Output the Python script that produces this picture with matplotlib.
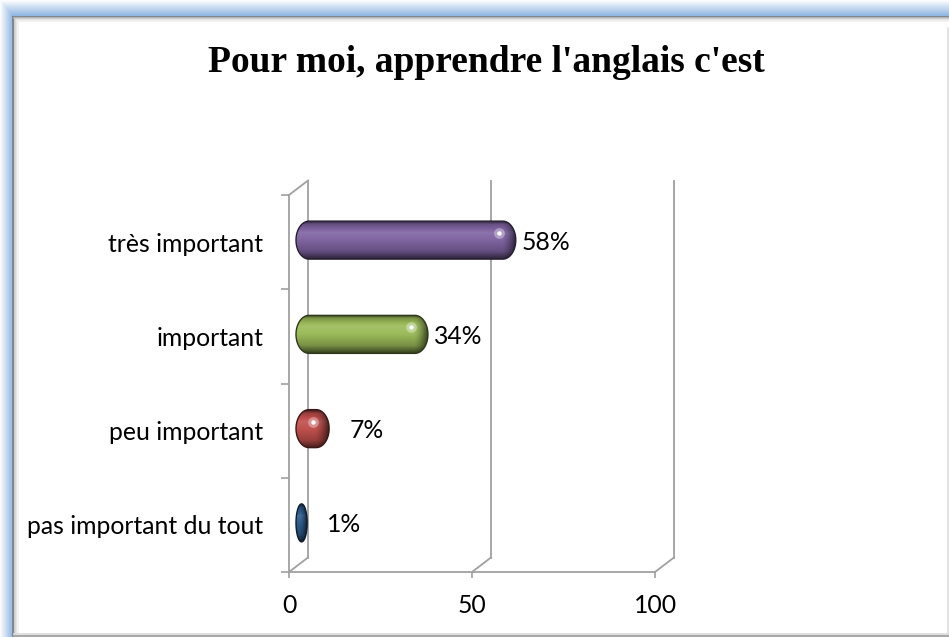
import numpy as np
import matplotlib
matplotlib.use('Agg')
import matplotlib.pyplot as plt
from matplotlib.colors import to_rgb
from matplotlib.patches import Polygon

# data (top to bottom as on the chart)
categories = ['très important', 'important', 'peu important', 'pas important du tout']
values = [58, 34, 7, 1]
value_labels = ['58%', '34%', '7%', '1%']
bar_colors = ['#8064A2', '#9BBB59', '#C0504D', '#2F5D90']
xticks = [0, 50, 100]
title = "Pour moi, apprendre l'anglais c'est"

W, H = 949, 637
fig = plt.figure(figsize=(W / 100, H / 100), dpi=100)
fig.patch.set_facecolor('white')

# ---- frame (blue glow + grey border) ----
bg = fig.add_axes([0, 0, 1, 1])
bg.set_xlim(0, W)
bg.set_ylim(H, 0)
bg.axis('off')
xx, yy = np.meshgrid(np.arange(W) + 0.5, np.arange(H) + 0.5)
a_left = np.where(xx < 14, np.clip(xx / 13, 0, 1), 1)
a_top = np.where(yy < 17, np.clip(yy / 16, 0, 1), 1)
alpha = np.minimum(a_left, a_top)
alpha[(xx >= 14) & (yy >= 17)] = 0
blue = np.array(to_rgb('#8DB4E2'))
img = np.ones((H, W, 3)) * (1 - alpha[..., None]) + blue * alpha[..., None]
bg.imshow(img, extent=[0, W, H, 0], aspect='auto', interpolation='bilinear')
bg.plot([13.5, 13.5], [17, H], color='#7F7F7F', lw=1.2)
bg.plot([13, W], [16.5, 16.5], color='#7F7F7F', lw=1.2)
for off, c in [(1.5, '#BDBDBD'), (3, '#DDDDDD'), (4.5, '#F0F0F0')]:
    bg.plot([13.5 + off, 13.5 + off], [17 + off, H], color=c, lw=1.1)
    bg.plot([13 + off, W], [16.5 + off, 16.5 + off], color=c, lw=1.1)
bg.plot([14, W], [635.5, 635.5], color='#A8A8A8', lw=1.5)
bg.plot([14, W], [633.8, 633.8], color='#DADADA', lw=1.2)
bg.plot([947.8, 947.8], [28, 633], color='#DDDDDD', lw=1.2)
bg.set_xlim(0, W)
bg.set_ylim(H, 0)

fig.text(486 / W, 1 - 63 / H, title, ha='center', va='center',
         fontsize=27, fontweight='bold', family='Liberation Serif')

# ---- plot area ----
left_px, right_px, top_px, bottom_px = 289, 655, 195, 572
ax = fig.add_axes([left_px / W, 1 - bottom_px / H,
                   (right_px - left_px) / W, (bottom_px - top_px) / H])
ax.set_xlim(0, 100)
ax.set_ylim(-0.5, len(categories) - 0.5)
ax.patch.set_alpha(0)
for s in ax.spines.values():
    s.set_visible(False)

px_x = (right_px - left_px) / 100.0          # pixels per x unit
px_y = (bottom_px - top_px) / len(categories)  # pixels per y unit
dx, dy = 19 / px_x, 14.5 / px_y               # depth offset of back wall
ymin, ymax = -0.5, len(categories) - 0.5
gray = '#A0A0A0'
lkw = dict(color=gray, lw=1.3, clip_on=False, zorder=1)

ax.plot([0, 0], [ymin, ymax], **lkw)
ax.plot([0, 100], [ymin, ymin], **lkw)
ax.plot([0, dx], [ymax, ymax + dy], **lkw)
for xt in xticks:
    ax.plot([xt + dx, xt + dx], [ymin + dy, ymax + dy], **lkw)
    ax.plot([xt, xt + dx], [ymin, ymin + dy], **lkw)

# ticks
ypos = [len(categories) - 1 - i for i in range(len(categories))]
ax.set_yticks(np.arange(ymin, ymax + 0.01, 1.0))
ax.set_yticklabels([])
ax.tick_params(axis='y', which='major', length=6, width=1.2, color=gray)
ax.set_yticks(ypos, minor=True)
ax.set_yticklabels(categories, minor=True)
ax.tick_params(axis='y', which='minor', length=0, pad=18.5)
ax.set_xticks(xticks)
ax.set_xticklabels([str(t) for t in xticks])
ax.tick_params(axis='x', which='major', length=4, width=1.2, color=gray, pad=12)
for lab in ax.get_yticklabels(minor=True) + ax.get_xticklabels():
    lab.set_fontfamily('Lato')
    lab.set_fontsize(17.8)


def shade(c, m):
    c = np.array(c)
    if m >= 1:
        return c + (1 - c) * (m - 1)
    return c * m


# vertical light profile of a cylinder (top -> bottom)
prof_t = [0.0, 0.08, 0.3, 0.5, 0.8, 1.0]
prof_m = [0.35, 0.8, 1.1, 1.0, 0.78, 0.35]

bar_h = 38 / px_y
shift_x = 7 / px_x
shift_y = 2 / px_y
end_pad = 7.5 / px_x
label_gap_px = [6, 6, 21, 20]

for i, (v, c, lab) in enumerate(zip(values, bar_colors, value_labels)):
    yc = ypos[i] + shift_y
    x0 = shift_x
    x1 = shift_x + v + end_pad
    ry = bar_h / 2
    rx = min(13 / px_x, (x1 - x0) / 2)
    t = np.linspace(-np.pi / 2, np.pi / 2, 40)
    right = np.column_stack([x1 - rx + rx * np.cos(t), yc + ry * np.sin(t)])
    t2 = np.linspace(np.pi / 2, 3 * np.pi / 2, 40)
    left = np.column_stack([x0 + rx + rx * np.cos(t2), yc + ry * np.sin(t2)])
    poly = Polygon(np.vstack([right, left]), closed=True, facecolor='none',
                   edgecolor=shade(to_rgb(c), 0.3), lw=1.0, zorder=4)
    ax.add_patch(poly)

    base = to_rgb(c)
    rows = np.linspace(0, 1, 100)
    mult = np.interp(rows, prof_t, prof_m)
    grad = np.array([shade(base, m) for m in mult])[:, None, :]
    im = ax.imshow(grad, extent=[x0, x1, yc - ry, yc + ry], origin='upper',
                   aspect='auto', interpolation='bilinear', zorder=3)
    im.set_clip_path(poly)

    # darker end cap
    cap_w = min(14 / px_x, (x1 - x0) * 0.6)
    ramp = np.zeros((1, 50, 4))
    ramp[0, :, 3] = np.linspace(0, 1, 50) ** 1.5 * 0.65
    im2 = ax.imshow(ramp, extent=[x1 - cap_w, x1, yc - ry, yc + ry],
                    aspect='auto', interpolation='bilinear', zorder=3.5)
    im2.set_clip_path(poly)

    # specular highlight
    hx = x1 - min(17 / px_x, (x1 - x0) * 0.5)
    hy = yc + 7 / px_y
    if v > 2:
        ax.scatter([hx], [hy], s=60, color='white', alpha=0.35, lw=0, zorder=5)
        ax.scatter([hx], [hy], s=10, color='white', lw=0, zorder=5)

    ax.text(x1 + label_gap_px[i] / px_x, ypos[i], lab, ha='left', va='center',
            fontsize=17.8, family='Lato', color='black', zorder=6)

ax.set_xlim(0, 100)
ax.set_ylim(ymin, ymax)

fig.savefig('out.png', dpi=100)
